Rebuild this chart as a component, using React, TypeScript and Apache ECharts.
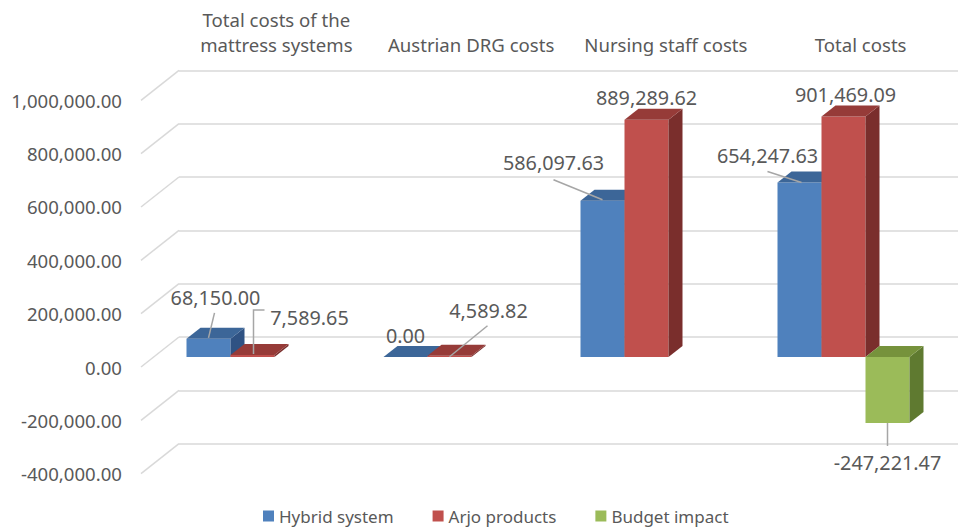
import React, { useEffect, useRef } from "react";
import * as echarts from "echarts";

const categories = [
  "Total costs of the\nmattress systems",
  "Austrian DRG costs",
  "Nursing staff costs",
  "Total costs",
];
const seriesNames = ["Hybrid system", "Arjo products", "Budget impact"];
const hybridSystem: (number | null)[] = [68150.0, 0.0, 586097.63, 654247.63];
const arjoProducts: (number | null)[] = [7589.65, 4589.82, 889289.62, 901469.09];
const budgetImpact: (number | null)[] = [null, null, null, -247221.47];
const yTicks = [-400000, -200000, 0, 200000, 400000, 600000, 800000, 1000000];

// styling / layout (not data)
const FRONT = ["#4F81BD", "#C0504D", "#9BBB59"];
const TOP = ["#3C6698", "#963B38", "#76923C"];
const SIDE = ["#2F5283", "#7A2E2C", "#5F7A30"];
const TEXT = "#595959";
const GRID_LINE = "#D9D9D9";
const LEADER = "#A6A6A6";
const FONT = "Noto Sans";
const AXIS_FS = 18.6;
const LABEL_FS = 19.8;
const LEGEND_FS = 17;
const DX = 14;
const DY = 11;

// label offsets relative to the bar's top-centre (or bottom-centre for negatives)
type LabelLayout = { dx: number; dy: number; line?: number[][] } | null;
const labelLayouts: LabelLayout[][] = [
  [
    { dx: 7, dy: -41, line: [[0, -1], [6, -26]] },
    { dx: 0, dy: -22 },
    { dx: -49, dy: -38, line: [[0, -1], [-49, -21]] },
    { dx: -32, dy: -27, line: [[2, 0], [-32, -11]] },
  ],
  [
    { dx: 57, dy: -37, line: [[1, -1], [1, -45], [12, -45]] },
    { dx: 39, dy: -45, line: [[0, 1], [38, -30]] },
    { dx: 0, dy: -22 },
    { dx: 2, dy: -22 },
  ],
  [null, null, null, { dx: 0, dy: 40, line: [[0, 0], [0, 23]] }],
];

const allSeries = [hybridSystem, arjoProducts, budgetImpact];

const fmt = (v: number) =>
  v.toLocaleString("en-US", { minimumFractionDigits: 2, maximumFractionDigits: 2 });

function barGeom(api: any, sIdx: number, cat: number, v: number) {
  const band = api.size([1, 0])[0];
  const center = api.coord([cat, 0])[0];
  const barW = (band * 44) / 197;
  const x0 = center - 1.5 * barW + sIdx * barW;
  const yTop = api.coord([cat, Math.max(v, 0)])[1];
  const yBot = api.coord([cat, Math.min(v, 0)])[1];
  return { x0, barW, yTop, yBot };
}

export default function App() {
  const ref = useRef<HTMLDivElement>(null);
  useEffect(() => {
    if (!ref.current) return;
    const chart = echarts.init(ref.current, undefined, { renderer: "svg" });

    const barSeries = allSeries.map((vals, sIdx) => ({
      type: "custom",
      name: seriesNames[sIdx],
      xAxisIndex: 0,
      yAxisIndex: 0,
      z: 3,
      itemStyle: { color: FRONT[sIdx] },
      data: vals
        .map((v, i) => (v === null ? null : [i, v]))
        .filter((d) => d !== null),
      renderItem: (params: any, api: any) => {
        const cat = api.value(0);
        const v = api.value(1);
        const { x0, barW, yTop, yBot } = barGeom(api, sIdx, cat, v);
        const children: any[] = [];
        if (yBot - yTop > 0.01) {
          children.push({
            type: "rect",
            shape: { x: x0, y: yTop, width: barW, height: yBot - yTop },
            style: { fill: FRONT[sIdx] },
          });
          children.push({
            type: "polygon",
            shape: {
              points: [
                [x0 + barW, yTop],
                [x0 + barW + DX, yTop - DY],
                [x0 + barW + DX, yBot - DY],
                [x0 + barW, yBot],
              ],
            },
            style: { fill: SIDE[sIdx] },
          });
        }
        children.push({
          type: "polygon",
          shape: {
            points: [
              [x0, yTop],
              [x0 + barW, yTop],
              [x0 + barW + DX, yTop - DY],
              [x0 + DX, yTop - DY],
            ],
          },
          style: { fill: TOP[sIdx] },
        });
        return { type: "group", children };
      },
    }));

    const labelData: number[][] = [];
    allSeries.forEach((vals, sIdx) =>
      vals.forEach((v, i) => {
        if (v !== null) labelData.push([i, v, sIdx]);
      })
    );

    const labelSeries = {
      type: "custom",
      name: "labels",
      xAxisIndex: 0,
      yAxisIndex: 0,
      z: 10,
      silent: true,
      data: labelData,
      renderItem: (params: any, api: any) => {
        const cat = api.value(0);
        const v = api.value(1);
        const sIdx = api.value(2);
        const lay = labelLayouts[sIdx][cat];
        if (!lay) return null;
        const { x0, barW, yTop, yBot } = barGeom(api, sIdx, cat, v);
        const ax = x0 + barW / 2;
        const ay = v < 0 ? yBot : yTop;
        const children: any[] = [];
        if (lay.line) {
          children.push({
            type: "polyline",
            shape: { points: lay.line.map((p) => [ax + p[0], ay + p[1]]) },
            style: { stroke: LEADER, lineWidth: 1.5, fill: null },
          });
        }
        children.push({
          type: "text",
          x: ax + lay.dx,
          y: ay + lay.dy,
          style: {
            text: fmt(v),
            fill: TEXT,
            font: `${LABEL_FS}px "${FONT}"`,
            align: "center",
            verticalAlign: "middle",
          },
        });
        return { type: "group", children };
      },
    };

    const diagSeries = {
      type: "custom",
      name: "diag",
      xAxisIndex: 0,
      yAxisIndex: 0,
      z: 1,
      silent: true,
      data: yTicks.map((t) => [0, t]),
      renderItem: (params: any, api: any) => {
        const cs = params.coordSys;
        const y = api.coord([0, api.value(1)])[1];
        return {
          type: "line",
          shape: { x1: cs.x - 13, y1: y + 10, x2: cs.x + 25, y2: y - 20 },
          style: { stroke: GRID_LINE, lineWidth: 1.5 },
        };
      },
    };

    const yMin = yTicks[0];
    const yMax = yTicks[yTicks.length - 1];
    const interval = yTicks[1] - yTicks[0];

    chart.setOption({
      animation: false,
      backgroundColor: "#ffffff",
      textStyle: { fontFamily: FONT },
      legend: {
        data: seriesNames,
        left: 263,
        top: 507,
        padding: 0,
        itemWidth: 11,
        itemHeight: 11,
        itemGap: 39,
        icon: "rect",
        textStyle: { color: TEXT, fontSize: LEGEND_FS, fontFamily: FONT, lineHeight: 18 },
      },
      grid: [
        { left: 154, right: 16, top: 90.3, bottom: 66.3 },
        { left: 179, right: -9, top: 70.3, bottom: 86.3 },
        { left: 141, right: 16, top: 100.3, bottom: 56.3 },
      ],
      xAxis: [
        { type: "category", gridIndex: 0, data: categories, show: false },
        {
          type: "category",
          gridIndex: 1,
          data: categories,
          position: "top",
          axisLine: { show: false },
          axisTick: { show: false },
          axisLabel: {
            color: TEXT,
            fontSize: AXIS_FS,
            fontFamily: FONT,
            lineHeight: 25,
            margin: 13,
            interval: 0,
          },
        },
        { type: "category", gridIndex: 2, data: categories, show: false },
      ],
      yAxis: [
        { type: "value", gridIndex: 0, min: yMin, max: yMax, interval, show: false },
        {
          type: "value",
          gridIndex: 1,
          min: yMin,
          max: yMax,
          interval,
          axisLabel: { show: false },
          axisLine: { show: false },
          axisTick: { show: false },
          splitLine: { show: true, lineStyle: { color: GRID_LINE, width: 1.5 } },
        },
        {
          type: "value",
          gridIndex: 2,
          min: yMin,
          max: yMax,
          interval,
          axisLine: { show: false },
          axisTick: { show: false },
          splitLine: { show: false },
          axisLabel: {
            color: TEXT,
            fontSize: AXIS_FS,
            fontFamily: FONT,
            margin: 19,
            formatter: (v: number) => fmt(v),
          },
        },
      ],
      series: [diagSeries, ...barSeries, labelSeries],
    });
    return () => chart.dispose();
  }, []);
  return (
    <div
      ref={ref}
      style={{ position: "fixed", left: 0, top: 0, width: 958, height: 530 }}
    />
  );
}
